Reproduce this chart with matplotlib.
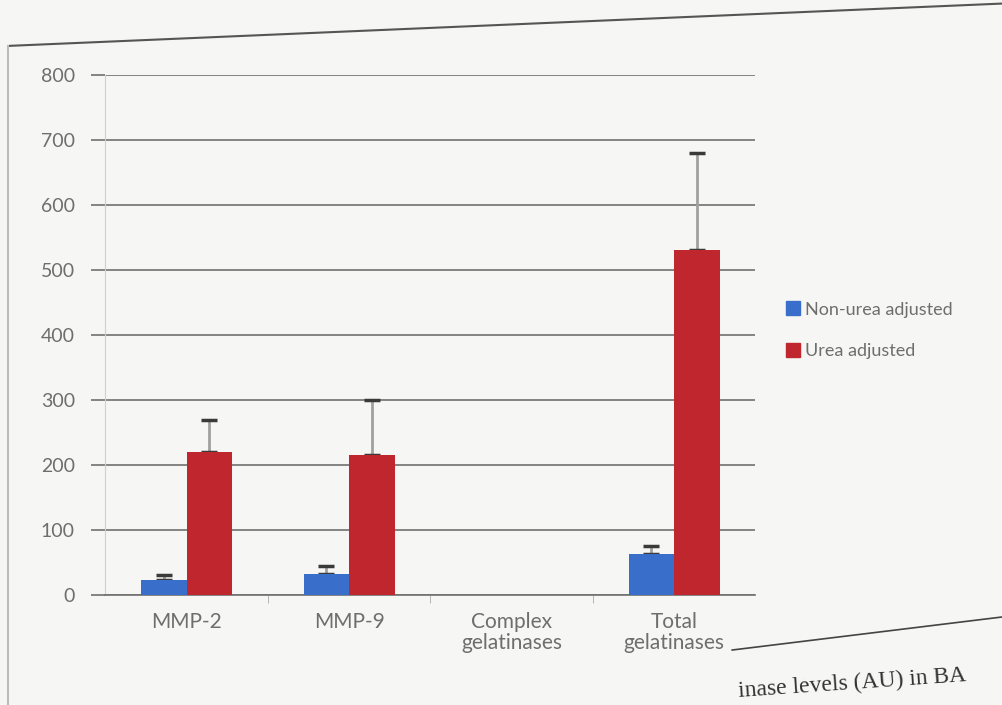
import numpy as np
import matplotlib
matplotlib.use("Agg")
from matplotlib import pyplot as plt
from matplotlib.lines import Line2D

categories = ["MMP-2", "MMP-9", "Complex\ngelatinases", "Total\ngelatinases"]
non_urea = [23, 33, 0, 63]
non_urea_err = [8, 12, 0, 12]
urea = [220, 215, 0, 530]
urea_err = [49, 85, 0, 150]
series_names = ["Non-urea adjusted", "Urea adjusted"]
yticks = [0, 100, 200, 300, 400, 500, 600, 700, 800]

blue = "#3a6ecb"
red = "#c0262d"
txt = "#6e6e6e"

plt.rcParams['font.family'] = ['Lato', 'DejaVu Sans']

fig = plt.figure(figsize=(10.03, 7.05), dpi=100)
fig.patch.set_facecolor("#f6f6f4")
ax = fig.add_axes([0.105, 0.156, 0.648, 0.738])
ax.set_facecolor("#f6f6f4")

x = np.arange(len(categories))
w = 0.28
ax.bar(x - w / 2, non_urea, w, color=blue, zorder=3)
ax.bar(x + w / 2, urea, w, color=red, zorder=3)

# only the upper half of the error bars is drawn
for xs, vals, errs in [(x - w / 2, non_urea, non_urea_err), (x + w / 2, urea, urea_err)]:
    keep = np.array(vals) > 0
    eb = ax.errorbar(xs[keep], np.array(vals)[keep],
                     yerr=[np.zeros(keep.sum()), np.array(errs)[keep]],
                     fmt='none', ecolor="#a0a0a0", elinewidth=2, capsize=6,
                     capthick=2.5, zorder=2)
    for cap in eb[1]:
        cap.set_markeredgecolor("#3a3a3a")

ax.set_xlim(-0.5, 3.5)
ax.set_ylim(0, 800)
ax.set_yticks(yticks)
ax.set_yticklabels([str(v) for v in yticks], color=txt, fontsize=14)
ax.yaxis.grid(True, color="#707070", linewidth=1.2, zorder=0)
ax.tick_params(axis='y', length=10, color="#707070", width=1.2, pad=12)

ax.set_xticks(x)
ax.set_xticklabels(categories, color=txt, fontsize=15, linespacing=1.1)
ax.set_xticks([0.5, 1.5, 2.5], minor=True)
ax.tick_params(axis='x', which='major', length=0, pad=12)
ax.tick_params(axis='x', which='minor', length=6, color="#aaaaaa")

for s in ["top", "right"]:
    ax.spines[s].set_visible(False)
ax.spines["left"].set_color("#d0d0d0")
ax.spines["bottom"].set_color("#707070")
ax.spines["bottom"].set_linewidth(1.2)

handles = [Line2D([], [], marker='s', linestyle='none', markersize=10,
                  markerfacecolor=c, markeredgecolor=c) for c in (blue, red)]
fig.legend(handles, series_names, loc='upper left', bbox_to_anchor=(0.765, 0.595),
           frameon=False, fontsize=13, labelcolor=txt, handletextpad=0.2,
           labelspacing=1.4, handlelength=1.0)

# page edges and the partly visible caption from the photo
fig.add_artist(Line2D([0.01, 1.0], [0.935, 0.995], color="#555555", linewidth=1.5))
fig.add_artist(Line2D([0.008, 0.008], [0.0, 0.935], color="#bbbbbb", linewidth=1.5))
fig.add_artist(Line2D([0.73, 1.0], [0.078, 0.125], color="#444444", linewidth=1.2))
fig.text(0.735, 0.004, "inase levels (AU) in BA", family=['Liberation Serif'],
         fontsize=17, color="#333333", rotation=4, va='bottom')

fig.savefig("out.png", dpi=100, facecolor=fig.get_facecolor())
